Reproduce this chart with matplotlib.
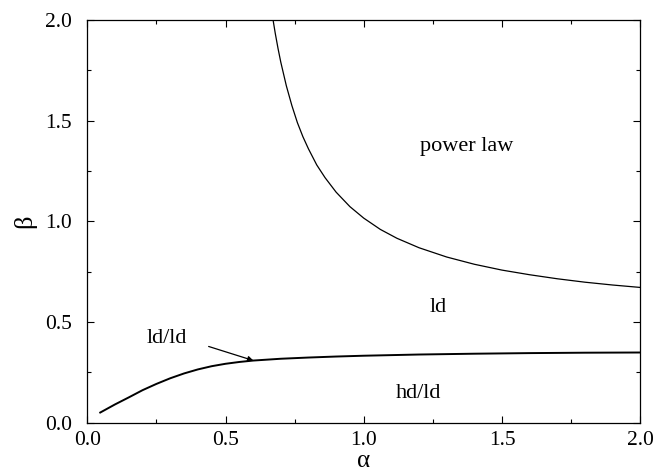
import matplotlib
matplotlib.use("Agg")
import matplotlib.pyplot as plt
from matplotlib.ticker import MultipleLocator, FormatStrFormatter

# boundary between "power law" and "ld" phases
upper_alpha = [0.672, 0.68, 0.69, 0.70, 0.72, 0.74, 0.76, 0.78, 0.80, 0.83, 0.86,
               0.90, 0.95, 1.0, 1.06, 1.12, 1.2, 1.3, 1.4, 1.5, 1.6, 1.7, 1.8, 1.9, 2.0]
upper_beta = [2.0, 1.933, 1.858, 1.79, 1.673, 1.575, 1.49, 1.42, 1.36, 1.28, 1.217,
              1.145, 1.073, 1.016, 0.96, 0.916, 0.869, 0.823, 0.787, 0.758, 0.735,
              0.715, 0.698, 0.684, 0.672]

# boundary between "ld" and "hd/ld" phases
lower_alpha = [0.047, 0.1, 0.15, 0.2, 0.25, 0.3, 0.35, 0.4, 0.45, 0.5, 0.55, 0.6,
               0.7, 0.8, 0.9, 1.0, 1.2, 1.4, 1.6, 1.8, 2.0]
lower_beta = [0.051, 0.091, 0.126, 0.162, 0.193, 0.221, 0.245, 0.265, 0.281, 0.293,
              0.302, 0.309, 0.318, 0.324, 0.329, 0.333, 0.339, 0.343, 0.346, 0.348, 0.349]

plt.rcParams['font.family'] = ['Liberation Serif', 'DejaVu Serif']

fig, ax = plt.subplots(figsize=(6.56, 4.74), dpi=100)
fig.subplots_adjust(left=0.133, right=0.976, top=0.958, bottom=0.108)

ax.plot(upper_alpha, upper_beta, color='black', lw=0.9)
ax.plot(lower_alpha, lower_beta, color='black', lw=1.4)

ax.text(1.373, 1.37, 'power law', fontsize=16, ha='center', va='center')
ax.text(1.27, 0.571, 'ld', fontsize=16, ha='center', va='center')
ax.text(1.197, 0.144, 'hd/ld', fontsize=16, ha='center', va='center')
ax.text(0.288, 0.42, 'ld/ld', fontsize=16, ha='center', va='center')
ax.annotate('', xy=(0.601, 0.309), xytext=(0.439, 0.379),
            arrowprops=dict(arrowstyle='-|>', color='black', lw=0.9,
                            shrinkA=0, shrinkB=0, mutation_scale=8))

ax.set_xlim(0, 2)
ax.set_ylim(0, 2)
ax.xaxis.set_major_locator(MultipleLocator(0.5))
ax.yaxis.set_major_locator(MultipleLocator(0.5))
ax.xaxis.set_minor_locator(MultipleLocator(0.25))
ax.yaxis.set_minor_locator(MultipleLocator(0.25))
ax.xaxis.set_major_formatter(FormatStrFormatter('%.1f'))
ax.yaxis.set_major_formatter(FormatStrFormatter('%.1f'))
ax.tick_params(which='both', direction='in', top=True, right=True, labelsize=15.5)
ax.tick_params(which='major', length=5, width=0.8)
ax.tick_params(which='minor', length=3, width=0.8)
ax.tick_params(axis='x', which='major', pad=6)
ax.tick_params(axis='y', which='major', pad=11)
for s in ax.spines.values():
    s.set_linewidth(0.9)

ax.set_xlabel('α', fontsize=18, labelpad=0)
ax.set_ylabel('β', fontsize=19, labelpad=6)

fig.savefig('out.png', dpi=100)
